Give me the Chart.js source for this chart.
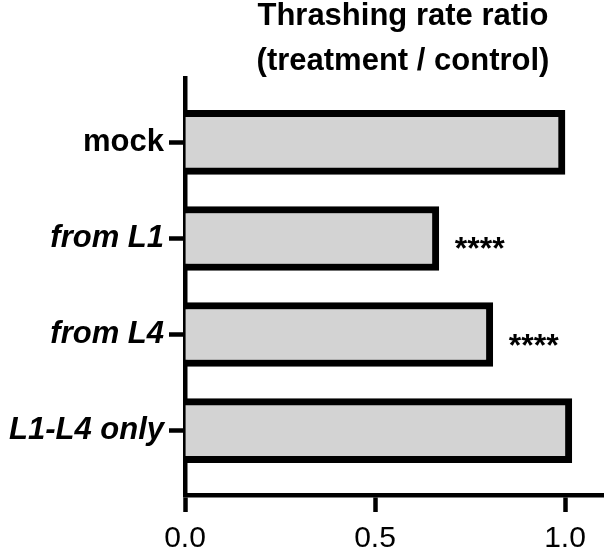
<!DOCTYPE html>
<html>
<head>
<meta charset="utf-8">
<script src="https://cdn.jsdelivr.net/npm/chart.js@4.4.1/dist/chart.umd.min.js"></script>
<style>
  html, body { margin: 0; padding: 0; background: #fff; }
  #wrap { width: 608px; height: 553px; }
</style>
</head>
<body>
<div id="wrap"><canvas id="chart" width="608" height="553"></canvas></div>
<script>
// ===== 데이터 =====
const categories = ['mock', 'from L1', 'from L4', 'L1-L4 only'];
const italicCats = [false, true, true, true];
const ratios = [1.0, 0.668, 0.81, 1.018];
const sigLabels = ['', '****', '****', ''];
const xTickValues = [0, 0.5, 1.0];
const titleLines = ['Thrashing rate ratio', '(treatment / control)'];

const FONT = '"Liberation Sans", Arial, Helvetica, sans-serif';
const AXIS_W = 4.5;

// 제목 + 별표 그리기
const annotatePlugin = {
  id: 'annotate',
  afterDatasetsDraw(chart) {
    const ctx = chart.ctx;
    const meta = chart.getDatasetMeta(0);
    ctx.save();
    ctx.fillStyle = '#000';
    ctx.font = `bold 32px ${FONT}`;
    ctx.textAlign = 'left';
    ctx.textBaseline = 'alphabetic';
    meta.data.forEach((bar, i) => {
      if (sigLabels[i]) ctx.fillText(sigLabels[i], bar.x + 16, bar.y + 21);
    });
    ctx.restore();
  },
  afterDraw(chart) {
    const ctx = chart.ctx;
    ctx.save();
    ctx.fillStyle = '#000';
    ctx.font = `bold 31px ${FONT}`;
    ctx.textAlign = 'center';
    ctx.textBaseline = 'alphabetic';
    titleLines.forEach((t, i) => ctx.fillText(t, 403, 25 + i * 45));
    ctx.restore();
  }
};

new Chart(document.getElementById('chart'), {
  type: 'bar',
  data: {
    datasets: [{
      data: ratios.map((v, i) => ({ x: v, y: i })),
      backgroundColor: '#d3d3d3',
      borderColor: '#000',
      borderWidth: 7,
      borderSkipped: 'start',
      barThickness: 64,
    }]
  },
  options: {
    indexAxis: 'y',
    responsive: false,
    animation: false,
    devicePixelRatio: 1,
    layout: { padding: { top: 78, right: 5, left: 0, bottom: 0 } },
    plugins: { legend: { display: false }, tooltip: { enabled: false }, title: { display: false } },
    scales: {
      x: {
        type: 'linear',
        min: 0, max: 1.1,
        offset: false,
        afterBuildTicks: s => { s.ticks = xTickValues.map(v => ({ value: v })); },
        afterFit: s => { s.height = 58; },
        ticks: {
          color: '#000',
          font: { family: FONT, size: 30 },
          padding: 9,
          callback: v => Number(v).toFixed(1),
        },
        grid: { display: true, offset: false, drawOnChartArea: false, color: '#000', tickLength: 17, tickWidth: AXIS_W },
        border: { display: true, color: '#000', width: AXIS_W },
      },
      y: {
        type: 'linear',
        reverse: true,
        min: -0.67, max: 3.67,
        offset: false,
        z: 1,
        afterBuildTicks: s => { s.ticks = categories.map((c, i) => ({ value: i })); },
        afterFit: s => { s.width = 185; },
        ticks: {
          color: '#000',
          padding: 5,
          font: ctx => ({ family: FONT, size: 31, weight: 'bold', style: italicCats[ctx.index] ? 'italic' : 'normal' }),
          callback: v => categories[v],
        },
        grid: { display: true, offset: false, drawOnChartArea: false, color: '#000', tickLength: 16, tickWidth: AXIS_W },
        border: { display: true, color: '#000', width: AXIS_W },
      }
    }
  },
  plugins: [annotatePlugin]
});
</script>
</body>
</html>
